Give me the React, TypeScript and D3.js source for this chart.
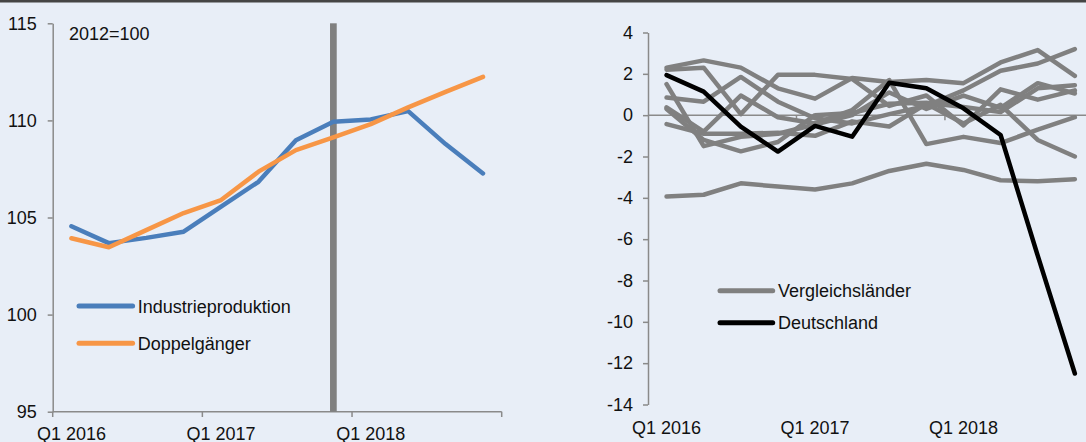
import { useEffect, useRef } from 'react';
import * as d3 from 'd3';

// quarters Q1 2016 .. Q4 2018
const quarters = d3.range(12);
const quarterLabels = ['Q1 2016', 'Q1 2017', 'Q1 2018'];
const labelIdx = [0, 4, 8];

// left chart, 2012=100
const industrie = [104.55, 103.68, 103.95, 104.27, 105.56, 106.84, 108.98, 109.93, 110.05, 110.48, 108.78, 107.27];
const doppel = [103.93, 103.47, 104.35, 105.23, 105.9, 107.36, 108.47, 109.12, 109.81, 110.67, 111.47, 112.24];
const leftTicks = [95, 100, 105, 110, 115];
const markerIdx = 7;

// right chart
const deutschland = [1.94, 1.14, -0.56, -1.76, -0.52, -1.04, 1.57, 1.3, 0.33, -0.96, -6.8, -12.5];
const vgA = [-3.94, -3.85, -3.3, -3.45, -3.6, -3.3, -2.7, -2.35, -2.65, -3.15, -3.2, -3.1];
const vgB = [2.3, 2.65, 2.3, 1.3, 0.8, 1.8, 1.6, 1.7, 1.55, 2.55, 3.15, 1.9];
const vgC = [0.38, -0.8, 0.95, -0.1, -0.4, 0.25, 1.7, -1.4, -1.05, -1.35, -0.7, -0.1];
const vgD = [1.5, -1.5, -1.05, -0.9, -0.45, 0.0, 1.1, 0.3, 0.95, 0.35, 1.55, 1.05];
const vgE = [0.85, 0.65, 1.85, 0.65, -0.15, -0.4, 0.05, 0.45, 1.2, 2.15, 2.5, 3.2];
const vgF = [-0.43, -0.9, -0.9, -0.85, -1.0, -0.3, -0.55, 0.55, -0.4, 0.5, -1.2, -2.0];
const vgG = [0.3, -1.2, -1.75, -1.3, 0.0, 0.1, 0.55, 0.6, 0.4, 0.15, 1.3, 1.45];
const vgX = [2.2, 2.3, 0.05, 1.95, 1.95, 1.75, 0.45, 0.95, -0.5, 1.25, 0.75, 1.2];
const vergleich = [vgA, vgB, vgC, vgD, vgE, vgF, vgG, vgX];
const rightTicks = d3.range(-14, 5, 2);

const FONT = '"Liberation Sans", Arial, sans-serif';
const AXIS = '#8a8a8a';
const BLUE = '#4a7ebb';
const ORANGE = '#f79646';
const GRAY = '#808080';

const App = () => {
  const ref = useRef<SVGSVGElement | null>(null);

  useEffect(() => {
    const svg = d3.select(ref.current);
    svg.selectAll('*').remove();

    svg.append('rect').attr('width', 1086).attr('height', 442).attr('fill', '#e8eef7');
    svg.append('rect').attr('width', 1086).attr('height', 2.5).attr('fill', '#454545');

    const drawAxisStyle = (g: d3.Selection<SVGGElement, unknown, null, undefined>) => {
      g.selectAll('path,line').attr('stroke', AXIS).attr('stroke-width', 1.5);
      g.selectAll('text').attr('font-family', FONT).attr('font-size', 18).attr('fill', '#111');
    };

    // ---------- left chart ----------
    const xl = d3.scaleBand<number>().domain(quarters).range([52.7, 501.7]);
    const yl = d3.scaleLinear().domain([95, 115]).range([411.7, 23.3]);
    const cxl = (i: number) => xl(i)! + xl.bandwidth() / 2;

    const gly = svg.append('g').attr('transform', 'translate(52.7,0)')
      .call(d3.axisLeft(yl).tickValues(leftTicks).tickSize(5).tickPadding(11).tickSizeOuter(0));
    drawAxisStyle(gly);

    const glx = svg.append('g');
    glx.append('line').attr('x1', 52.7).attr('x2', 501.7).attr('y1', 411.7).attr('y2', 411.7);
    [0, 4, 8, 12].forEach(k => {
      const x = 52.7 + k * xl.step();
      glx.append('line').attr('x1', x).attr('x2', x).attr('y1', 411.7).attr('y2', 417);
    });
    glx.selectAll('line').attr('stroke', AXIS).attr('stroke-width', 1.5);
    labelIdx.forEach((i, k) => {
      glx.append('text').attr('x', cxl(i)).attr('y', 439.5).attr('text-anchor', 'middle')
        .attr('font-family', FONT).attr('font-size', 18).attr('fill', '#111').text(quarterLabels[k]);
    });

    svg.append('rect')
      .attr('x', cxl(markerIdx) - 3.3).attr('width', 6.7)
      .attr('y', yl(115)).attr('height', yl(95) - yl(115))
      .attr('fill', GRAY);

    const lineL = d3.line<number>().x((_, i) => cxl(i)).y(d => yl(d));
    svg.append('path').attr('d', lineL(industrie)).attr('fill', 'none').attr('stroke', BLUE)
      .attr('stroke-width', 4.5).attr('stroke-linejoin', 'round').attr('stroke-linecap', 'round');
    svg.append('path').attr('d', lineL(doppel)).attr('fill', 'none').attr('stroke', ORANGE)
      .attr('stroke-width', 4.5).attr('stroke-linejoin', 'round').attr('stroke-linecap', 'round');

    svg.append('text').attr('x', 69).attr('y', 39.5).attr('font-family', FONT).attr('font-size', 18)
      .attr('fill', '#111').text('2012=100');

    const legL = [
      { name: 'Industrieproduktion', color: BLUE, y: 306 },
      { name: 'Doppelgänger', color: ORANGE, y: 343.3 },
    ];
    legL.forEach(d => {
      svg.append('line').attr('x1', 79).attr('x2', 132.6).attr('y1', d.y).attr('y2', d.y)
        .attr('stroke', d.color).attr('stroke-width', 5).attr('stroke-linecap', 'round');
      svg.append('text').attr('x', 137.7).attr('y', d.y + 6.5).attr('font-family', FONT)
        .attr('font-size', 18).attr('fill', '#111').text(d.name);
    });

    // ---------- right chart ----------
    const xr = d3.scaleBand<number>().domain(quarters).range([648, 1093.4]);
    const yr = d3.scaleLinear().domain([-14, 4]).range([404.5, 32.5]);
    const cxr = (i: number) => xr(i)! + xr.bandwidth() / 2;

    const gry = svg.append('g').attr('transform', 'translate(648,0)')
      .call(d3.axisLeft(yr).tickValues(rightTicks).tickSize(5).tickPadding(10).tickSizeOuter(0)
        .tickFormat(d => String(d)));
    drawAxisStyle(gry);

    const grx = svg.append('g');
    grx.append('line').attr('x1', 648).attr('x2', 1093.4).attr('y1', yr(0)).attr('y2', yr(0));
    [4, 8, 12].forEach(k => {
      const x = 648 + k * xr.step();
      grx.append('line').attr('x1', x).attr('x2', x).attr('y1', yr(0)).attr('y2', yr(0) + 5);
    });
    grx.selectAll('line').attr('stroke', AXIS).attr('stroke-width', 1.5);
    labelIdx.forEach((i, k) => {
      grx.append('text').attr('x', cxr(i)).attr('y', 434).attr('text-anchor', 'middle')
        .attr('font-family', FONT).attr('font-size', 18).attr('fill', '#111').text(quarterLabels[k]);
    });

    const lineR = d3.line<number>().x((_, i) => cxr(i)).y(d => yr(d));
    svg.append('g').selectAll('path').data(vergleich).enter().append('path')
      .attr('d', d => lineR(d)).attr('fill', 'none').attr('stroke', GRAY)
      .attr('stroke-width', 4.5).attr('stroke-linejoin', 'round').attr('stroke-linecap', 'round');
    svg.append('path').attr('d', lineR(deutschland)).attr('fill', 'none').attr('stroke', '#000')
      .attr('stroke-width', 4.5).attr('stroke-linejoin', 'round').attr('stroke-linecap', 'round');

    const legR = [
      { name: 'Vergleichsländer', color: GRAY, y: 290.7 },
      { name: 'Deutschland', color: '#000', y: 322.7 },
    ];
    legR.forEach(d => {
      svg.append('line').attr('x1', 720).attr('x2', 772.7).attr('y1', d.y).attr('y2', d.y)
        .attr('stroke', d.color).attr('stroke-width', 5).attr('stroke-linecap', 'round');
      svg.append('text').attr('x', 778).attr('y', d.y + 6.5).attr('font-family', FONT)
        .attr('font-size', 18).attr('fill', '#111').text(d.name);
    });
  }, []);

  return (
    <svg ref={ref} width={1086} height={442}
      style={{ position: 'absolute', left: 0, top: 0, display: 'block' }} />
  );
};

export default App;
